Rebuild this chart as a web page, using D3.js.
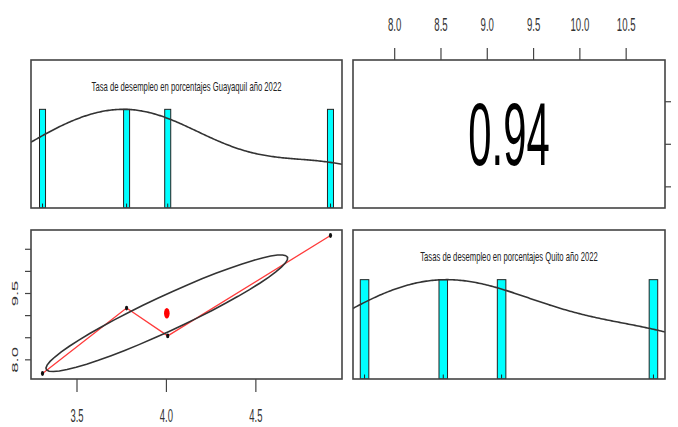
<!DOCTYPE html>
<html>
<head>
<meta charset="utf-8">
<script src="https://cdn.jsdelivr.net/npm/d3@7"></script>
<style>
body { margin: 0; background: #fff; }
svg { display: block; font-family: Arial, "Liberation Sans", sans-serif; }
</style>
</head>
<body>
<div id="chart"></div>
<script>
// values
var guayaquil = [3.31, 3.78, 4.01, 4.92];
var quito = [7.68, 9.16, 8.53, 10.80];
var names = ["Tasa de desempleo en porcentajes Guayaquil año 2022",
             "Tasas de desempleo en porcentajes Quito año 2022"];
var quitoTicks = [8.0, 8.5, 9.0, 9.5, 10.0, 10.5];
var quitoLeftLabels = ["8.0", "9.5"];
var guayaquilTicks = [3.5, 4.0, 4.5];

var width = 678, height = 427;
var cols = [[31, 342], [353, 665]];
var rows = [[60, 208], [230, 379]];

var svg = d3.select("#chart").append("svg")
    .attr("width", width)
    .attr("height", height);

// R style axis range, 4% each side
function padRange(v) {
    var ext = d3.extent(v), r = ext[1] - ext[0];
    return [ext[0] - 0.04 * r, ext[1] + 0.04 * r];
}

var xG = d3.scaleLinear().domain(padRange(guayaquil)).range(cols[0]);
var yG = d3.scaleLinear().domain(padRange(guayaquil)).range([rows[0][1], rows[0][0]]);
var xQ = d3.scaleLinear().domain(padRange(quito)).range(cols[1]);
var yQ = d3.scaleLinear().domain(padRange(quito)).range([rows[1][1], rows[1][0]]);

function cor(a, b) {
    var ma = d3.mean(a), mb = d3.mean(b), s = 0, sa = 0, sb = 0;
    a.forEach(function (d, i) {
        s += (d - ma) * (b[i] - mb);
        sa += (d - ma) * (d - ma);
        sb += (b[i] - mb) * (b[i] - mb);
    });
    return s / Math.sqrt(sa * sb);
}

// gaussian density like density(x, bw = "nrd", adjust = 1.2)
function density(v) {
    var s = v.slice().sort(d3.ascending);
    var iqr = d3.quantile(s, 0.75) - d3.quantile(s, 0.25);
    var bw = 1.06 * Math.min(d3.deviation(s), iqr / 1.34) * Math.pow(s.length, -0.2) * 1.2;
    var lo = s[0] - 3 * bw, hi = s[s.length - 1] + 3 * bw;
    var pts = d3.range(512).map(function (i) {
        var x = lo + (hi - lo) * i / 511;
        var y = d3.sum(s, function (d) {
            var z = (x - d) / bw;
            return Math.exp(-z * z / 2);
        });
        return [x, y];
    });
    var m = d3.max(pts, function (p) { return p[1]; });
    pts.forEach(function (p) { p[1] = p[1] / m; });
    return pts;
}

function clipFor(id, c, r) {
    svg.append("clipPath").attr("id", id)
        .append("rect")
        .attr("x", cols[c][0]).attr("y", rows[r][0])
        .attr("width", cols[c][1] - cols[c][0])
        .attr("height", rows[r][1] - rows[r][0]);
}

// diagonal panel: bars at each value + density + rug + name
function drawDiag(values, xs, c, r, name, id) {
    clipFor(id, c, r);
    var g = svg.append("g").attr("clip-path", "url(#" + id + ")");
    var yH = d3.scaleLinear().domain([0, 1.5]).range([rows[r][1], rows[r][0]]);
    var s = values.slice().sort(d3.ascending);
    var ib = d3.min(d3.pairs(s), function (p) { return p[1] - p[0]; }) * (s.length - 1) / 41;

    g.selectAll(".bar").data(s).enter().append("rect")
        .attr("class", "bar")
        .attr("x", function (d) { return xs(d - ib); })
        .attr("width", function (d) { return xs(d + ib) - xs(d - ib); })
        .attr("y", yH(1))
        .attr("height", yH(0) - yH(1))
        .attr("fill", "#00ffff")
        .attr("stroke", "#222")
        .attr("stroke-width", 1);

    g.selectAll(".rug").data(s).enter().append("line")
        .attr("x1", function (d) { return xs(d); })
        .attr("x2", function (d) { return xs(d); })
        .attr("y1", yH(0))
        .attr("y2", yH(0.045))
        .attr("stroke", "#222");

    var line = d3.line()
        .x(function (p) { return xs(p[0]); })
        .y(function (p) { return yH(p[1]); });
    g.append("path")
        .attr("d", line(density(values)))
        .attr("fill", "none")
        .attr("stroke", "#333")
        .attr("stroke-width", 1.6);

    svg.append("text")
        .attr("transform", "translate(" + ((cols[c][0] + cols[c][1]) / 2) + "," + (rows[r][0] + 30.8) + ") scale(0.6,1)")
        .attr("text-anchor", "middle")
        .attr("font-size", 12.8)
        .attr("fill", "#222")
        .text(name);
}

drawDiag(guayaquil, xG, 0, 0, names[0], "clipG");
drawDiag(quito, xQ, 1, 1, names[1], "clipQ");

// scatter panel with correlation ellipse and smoother
clipFor("clipS", 0, 1);
var sc = svg.append("g").attr("clip-path", "url(#clipS)");
var r = cor(guayaquil, quito);
var xm = d3.mean(guayaquil), ym = d3.mean(quito);
var xsd = d3.deviation(guayaquil), ysd = d3.deviation(quito);
var th = Math.sign(r) / Math.sqrt(2);
var ell = d3.range(52).map(function (i) {
    var a = i * 2 * Math.PI / 51, cs = Math.cos(a), sn = Math.sin(a);
    var ex = cs * Math.sqrt(1 + r) * th - sn * Math.sqrt(1 - r) * th;
    var ey = cs * Math.sqrt(1 + r) * th + sn * Math.sqrt(1 - r) * th;
    return [xm + ex * xsd, ym + ey * ysd];
});
var sLine = d3.line()
    .x(function (p) { return xG(p[0]); })
    .y(function (p) { return yQ(p[1]); });

var pairsSorted = guayaquil.map(function (d, i) { return [d, quito[i]]; })
    .sort(function (a, b) { return a[0] - b[0]; });

sc.append("path")
    .attr("d", sLine(pairsSorted))
    .attr("fill", "none")
    .attr("stroke", "#ff3b3b")
    .attr("stroke-width", 1.3);

sc.append("path")
    .attr("d", sLine(ell))
    .attr("fill", "none")
    .attr("stroke", "#333")
    .attr("stroke-width", 1.6);

sc.selectAll(".pt").data(pairsSorted).enter().append("ellipse")
    .attr("cx", function (p) { return xG(p[0]); })
    .attr("cy", function (p) { return yQ(p[1]); })
    .attr("rx", 1.6).attr("ry", 2.4)
    .attr("fill", "#111");

sc.append("ellipse")
    .attr("cx", xG(xm)).attr("cy", yQ(ym))
    .attr("rx", 2.8).attr("ry", 5.2)
    .attr("fill", "#ff0000");

// correlation panel
svg.append("text")
    .attr("transform", "translate(" + ((cols[1][0] + cols[1][1]) / 2) + ",165) scale(0.47,1)")
    .attr("text-anchor", "middle")
    .attr("font-size", 89)
    .attr("fill", "#000")
    .text(r.toFixed(2));

// axes
function styleAxis(g) {
    g.select(".domain").remove();
    g.selectAll(".tick line").attr("stroke", "#444").attr("stroke-width", 1.2);
    g.selectAll(".tick text").attr("fill", "#333").attr("font-size", 18.5);
}

var topAxis = svg.append("g")
    .attr("transform", "translate(0," + rows[0][0] + ")")
    .call(d3.axisTop(xQ).tickValues(quitoTicks).tickSize(12).tickFormat(d3.format(".1f")));
styleAxis(topAxis);
topAxis.selectAll(".tick text").attr("y", -29).attr("dy", 0).attr("transform", "scale(0.52,1)");

var bottomAxis = svg.append("g")
    .attr("transform", "translate(0," + rows[1][1] + ")")
    .call(d3.axisBottom(xG).tickValues(guayaquilTicks).tickSize(13).tickFormat(d3.format(".1f")));
styleAxis(bottomAxis);
bottomAxis.selectAll(".tick text").attr("y", 43).attr("dy", 0).attr("font-size", 17.5)
    .attr("transform", "scale(0.54,1)");

var leftAxis = svg.append("g")
    .attr("transform", "translate(" + cols[0][0] + ",0)")
    .call(d3.axisLeft(yQ).tickValues(quitoTicks).tickSize(6).tickFormat(function (d) {
        var t = d3.format(".1f")(d);
        return quitoLeftLabels.indexOf(t) >= 0 ? t : "";
    }));
styleAxis(leftAxis);
leftAxis.selectAll(".tick text")
    .attr("x", 0).attr("y", 0).attr("dy", 0)
    .attr("text-anchor", "middle")
    .attr("transform", "translate(-13,0) scale(0.52,1) rotate(-90)");

var rightAxis = svg.append("g")
    .attr("transform", "translate(" + cols[1][1] + ",0)")
    .call(d3.axisRight(yG).tickValues(guayaquilTicks).tickSize(6).tickFormat(""));
styleAxis(rightAxis);

// panel boxes
var boxes = [[0, 0], [1, 0], [0, 1], [1, 1]];
svg.selectAll(".box").data(boxes).enter().append("rect")
    .attr("class", "box")
    .attr("x", function (d) { return cols[d[0]][0]; })
    .attr("y", function (d) { return rows[d[1]][0]; })
    .attr("width", function (d) { return cols[d[0]][1] - cols[d[0]][0]; })
    .attr("height", function (d) { return rows[d[1]][1] - rows[d[1]][0]; })
    .attr("fill", "none")
    .attr("stroke", "#444")
    .attr("stroke-width", 1.6);
</script>
</body>
</html>
